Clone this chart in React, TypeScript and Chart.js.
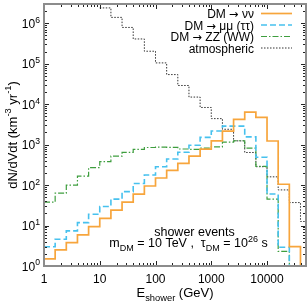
import React, { useEffect, useRef } from 'react';
import { Chart, registerables } from 'chart.js';

Chart.register(...registerables);

// ---- data ----
const binEdges = [1, 1.585, 2.512, 3.981, 6.31, 10, 15.85, 25.12, 39.81, 63.1, 100, 158.5, 251.2, 398.1, 631, 1000, 1585, 2512, 3981, 6310, 10000, 15850, 25120, 39810, 63100];

const nunuValues = [1.5, 2.5, 3.8, 5.9, 9.4, 15, 24, 38, 60, 95, 150, 230, 345, 520, 775, 1240, 2150, 4200, 6400, 4700, 1230, 105, 3.0];
const mumuValues = [3.0, 4.6, 7.4, 11.8, 19, 29.5, 45, 69, 110, 178, 285, 440, 650, 970, 1510, 2180, 2870, 2870, 1560, 490, 60, 2.9];
const zzValues = [38, 63, 100, 167, 270, 380, 520, 645, 760, 850, 870, 860, 780, 760, 820, 880, 1150, 1250, 820, 290, 45, 2.3];
const atmStartBin = 5;
const atmValues = [2.4e6, 1.4e6, 7.9e5, 4.1e5, 2.04e5, 1.05e5, 5.4e4, 2.9e4, 1.5e4, 8.3e3, 4.4e3, 2.4e3, 1240, 640, 285, 160, 76, 37, 12.6];

const seriesLabels = ['DM \u2192 \u03bd\u03bd', 'DM \u2192 \u03bc\u03bc (\u03c4\u03c4)', 'DM \u2192 ZZ (WW)', 'atmospheric'];

const xMajorTicks = [1, 10, 100, 1000, 10000];
const xTickLabels = ['1', '10', '100', '1000', '10000'];
const yMajorTicks = [1, 10, 100, 1000, 10000, 100000, 1000000];
const yTickExponents = ['0', '1', '2', '3', '4', '5', '6'];
const minorMultipliers = [2, 3, 4, 5, 6, 7, 8, 9];

const X_MIN = 1;
const X_MAX = 50000;
const Y_MIN = 1;
const Y_MAX = 3e6;
const FLOOR = 0.01;

type Part = { t: string; s?: 'sub' | 'sup'; f?: string };
const xTitle: Part[] = [{ t: 'E' }, { t: 'shower', s: 'sub' }, { t: ' (GeV)' }];
const yTitle: Part[] = [{ t: 'dN/dVdt (km' }, { t: '-3', s: 'sup' }, { t: ' yr' }, { t: '-1', s: 'sup' }, { t: ')' }];
const note1: Part[] = [{ t: 'shower events' }];
const note2: Part[] = [
  { t: 'm' }, { t: 'DM', s: 'sub' }, { t: ' = 10 TeV ,  \u03c4' }, { t: 'DM', s: 'sub' }, { t: ' = 10' }, { t: '26', s: 'sup' }, { t: ' s' },
];

const FONT = '"Liberation Sans", Arial, Helvetica, sans-serif';
const ARROW_FONT = '"DejaVu Sans", sans-serif';

function stepData(values: number[], startBin: number) {
  const pts = values.map((v, i) => ({ x: binEdges[startBin + i], y: v }));
  pts.push({ x: binEdges[startBin + values.length], y: FLOOR });
  return pts;
}

function labelParts(label: string): Part[] {
  const idx = label.indexOf('\u2192');
  if (idx < 0) return [{ t: label }];
  return [{ t: label.slice(0, idx) }, { t: '\u2192', f: ARROW_FONT }, { t: label.slice(idx + 1) }];
}

function drawRich(ctx: CanvasRenderingContext2D, parts: Part[], x: number, y: number, align: 'left' | 'center' | 'right', size: number) {
  const small = size * 0.72;
  const fontOf = (p: Part) => `${p.s ? small : p.f ? size * 0.95 : size}px ${p.f || FONT}`;
  const widths = parts.map((p) => {
    ctx.font = fontOf(p);
    return ctx.measureText(p.t).width;
  });
  const total = widths.reduce((a, b) => a + b, 0);
  let cx = align === 'left' ? x : align === 'center' ? x - total / 2 : x - total;
  ctx.textAlign = 'left';
  ctx.textBaseline = 'alphabetic';
  parts.forEach((p, i) => {
    ctx.font = fontOf(p);
    const dy = p.s === 'sup' ? -size * 0.42 : p.s === 'sub' ? size * 0.3 : 0;
    ctx.fillText(p.t, cx, y + dy);
    cx += widths[i];
  });
}

const framePlugin = {
  id: 'gnuplotFrame',
  afterDatasetsDraw(chart: any) {
    const ctx: CanvasRenderingContext2D = chart.ctx;
    const { left, right, top, bottom } = chart.chartArea;
    const xs = chart.scales.x;
    const ys = chart.scales.y;
    ctx.save();

    // ticks (inward, mirrored)
    ctx.strokeStyle = '#222';
    ctx.lineWidth = 1;
    ctx.beginPath();
    xMajorTicks.forEach((d) => {
      const vals = [{ v: d, len: 5 }, ...minorMultipliers.map((m) => ({ v: d * m, len: 3 }))];
      vals.forEach(({ v, len }) => {
        if (v < X_MIN || v > X_MAX) return;
        const px = Math.round(xs.getPixelForValue(v)) + 0.5;
        ctx.moveTo(px, bottom);
        ctx.lineTo(px, bottom - len);
        ctx.moveTo(px, top);
        ctx.lineTo(px, top + len);
      });
    });
    yMajorTicks.forEach((d) => {
      const vals = [{ v: d, len: 5 }, ...minorMultipliers.map((m) => ({ v: d * m, len: 3 }))];
      vals.forEach(({ v, len }) => {
        if (v < Y_MIN || v > Y_MAX) return;
        const py = Math.round(ys.getPixelForValue(v)) + 0.5;
        ctx.moveTo(left, py);
        ctx.lineTo(left + len, py);
        ctx.moveTo(right, py);
        ctx.lineTo(right - len, py);
      });
    });
    ctx.stroke();

    // frame
    ctx.strokeStyle = '#8c8c8c';
    ctx.lineWidth = 2;
    ctx.strokeRect(left, top, right - left, bottom - top);

    // tick labels
    ctx.fillStyle = '#000';
    xMajorTicks.forEach((d, i) => {
      const px = xs.getPixelForValue(d);
      drawRich(ctx, [{ t: xTickLabels[i] }], px, bottom + 17, 'center', 12);
    });
    yMajorTicks.forEach((d, i) => {
      const py = ys.getPixelForValue(d);
      drawRich(ctx, [{ t: '10' }, { t: yTickExponents[i], s: 'sup' }], left - 4, py + 4.5, 'right', 12);
    });

    // axis titles
    drawRich(ctx, xTitle, (left + right) / 2, bottom + 31, 'center', 13);
    ctx.save();
    ctx.translate(16.5, (top + bottom) / 2);
    ctx.rotate(-Math.PI / 2);
    drawRich(ctx, yTitle, 0, 0, 'center', 13);
    ctx.restore();

    // legend
    const ds = chart.data.datasets;
    ds.forEach((d: any, i: number) => {
      const ly = 13.5 + i * 11.5;
      ctx.fillStyle = '#000';
      drawRich(ctx, labelParts(d.label), 254, ly + 4.5, 'right', 12);
      ctx.strokeStyle = d.borderColor;
      ctx.lineWidth = d.borderWidth;
      ctx.setLineDash(d.borderDash || []);
      ctx.beginPath();
      ctx.moveTo(261, ly);
      ctx.lineTo(292, ly);
      ctx.stroke();
      ctx.setLineDash([]);
    });

    // annotations
    ctx.fillStyle = '#000';
    drawRich(ctx, note1, 194.5, 235.5, 'center', 12.5);
    drawRich(ctx, note2, 188.5, 247, 'center', 12.5);

    ctx.restore();
  },
};

export default function App() {
  const ref = useRef<HTMLCanvasElement | null>(null);
  useEffect(() => {
    if (!ref.current) return;
    const common = { pointRadius: 0, fill: false, stepped: 'before' as const, tension: 0 };
    const chart = new Chart(ref.current, {
      type: 'line',
      data: {
        datasets: [
          { ...common, label: seriesLabels[0], data: stepData(nunuValues, 0), borderColor: '#f7a53c', borderWidth: 1.7, borderDash: [] },
          { ...common, label: seriesLabels[1], data: stepData(mumuValues, 0), borderColor: '#47c1ee', borderWidth: 1.6, borderDash: [6, 3] },
          { ...common, label: seriesLabels[2], data: stepData(zzValues, 0), borderColor: '#3e9e3e', borderWidth: 1.2, borderDash: [6, 2, 1.5, 2] },
          { ...common, label: seriesLabels[3], data: stepData(atmValues, atmStartBin), borderColor: '#333333', borderWidth: 1, borderDash: [1.5, 1.5] },
        ] as any,
      },
      options: {
        animation: false,
        responsive: false,
        parsing: false as any,
        normalized: true,
        layout: { padding: { left: 44, right: 2, top: 4, bottom: 37 } },
        plugins: { legend: { display: false }, tooltip: { enabled: false } },
        scales: {
          x: { type: 'logarithmic', min: X_MIN, max: X_MAX, display: false },
          y: { type: 'logarithmic', min: Y_MIN, max: Y_MAX, display: false },
        },
      },
      plugins: [framePlugin],
    });
    return () => chart.destroy();
  }, []);
  return (
    <div style={{ position: 'fixed', left: 0, top: 0, width: 308, height: 303, background: '#fff' }}>
      <canvas ref={ref} width={308} height={303} style={{ display: 'block' }} />
    </div>
  );
}
